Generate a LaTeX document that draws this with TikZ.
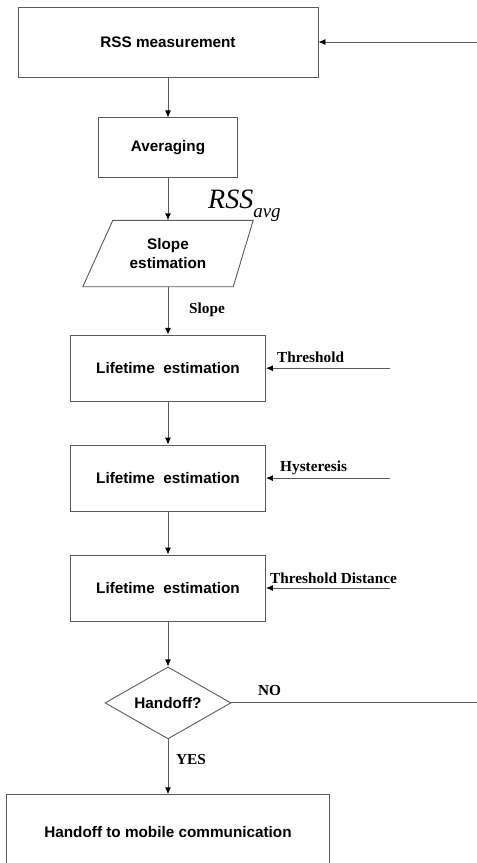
\documentclass[tikz,border=0pt]{standalone}
\usepackage{fontspec}
\setmainfont{Liberation Serif}
\setsansfont{Liberation Sans}
\usetikzlibrary{positioning,arrows.meta,shapes.geometric}

\begin{document}
\begin{tikzpicture}[
        x=1pt, y=-1pt,
        procbox/.style={rectangle, draw=black!65, line width=0.9pt, font=\sffamily\bfseries\fontsize{15.3}{19}\selectfont, align=center, inner sep=0pt},
        slopebox/.style={rectangle, draw=none, minimum width=170pt, minimum height=66pt, font=\sffamily\bfseries\fontsize{15.3}{19}\selectfont, align=center, inner sep=0pt},
        decision/.style={diamond, draw=black!65, line width=0.9pt, aspect=1.75, minimum width=126pt, minimum height=72pt, inner sep=0pt, font=\sffamily\bfseries\fontsize{15.3}{19}\selectfont},
        sidelbl/.style={font=\bfseries\fontsize{15.3}{18}\selectfont, inner sep=0pt, anchor=base west},
        arrow/.style={draw=black!65, line width=0.9pt, -{Latex[length=7pt,width=6pt,color=black]}},
        line/.style={draw=black!65, line width=0.9pt}
    ]
        \useasboundingbox (0,0) rectangle (477,863);

        % Main chain
        \node[procbox, minimum width=300pt, minimum height=70pt] (rss) at (168,42) {RSS measurement};
        \node[procbox, minimum width=139pt, minimum height=60pt, below=40pt of rss] (avg) {Averaging};
        \node[slopebox, below=42pt of avg] (slope) {Slope\\estimation};
        \draw[line] ([xshift=30pt]slope.north west) -- (slope.north east) -- ([xshift=-20pt]slope.south east) -- (slope.south west) -- cycle;
        \node[procbox, minimum width=195pt, minimum height=66pt, below=48pt of slope] (life1) {Lifetime\ \ estimation};
        \node[procbox, minimum width=195pt, minimum height=66pt, below=43pt of life1] (life2) {Lifetime\ \ estimation};
        \node[procbox, minimum width=195pt, minimum height=66pt, below=43pt of life2] (life3) {Lifetime\ \ estimation};
        \node[decision, below=45pt of life3] (handoff) {Handoff?};
        \node[procbox, minimum width=323pt, minimum height=74pt, below=55pt of handoff] (final) {Handoff to mobile communication};

        % Free ends on the right
        \coordinate (back) at (477,42);
        \coordinate (nout) at (handoff.east -| back);
        \coordinate[right=124pt of life1.east] (thrin);
        \coordinate[right=124pt of life2.east] (hysin);
        \coordinate[right=124pt of life3.east] (distin);

        % Labels
        \node[inner sep=0pt, anchor=base west] (rssavg) at (208,208) {\fontsize{28}{30}\selectfont\itshape RSS\raisebox{-9pt}{\fontsize{19}{20}\selectfont avg}};
        \node[sidelbl] (slopelbl) at (189,313) {Slope};
        \node[sidelbl] (thrlbl) at (277,362) {Threshold};
        \node[sidelbl] (hyslbl) at (280,471) {Hysteresis};
        \node[sidelbl] (distlbl) at (270,583) {Threshold Distance};
        \node[sidelbl] (nolbl) at (258,695) {NO};
        \node[sidelbl] (yeslbl) at (176,764) {YES};

        % Arrows
        \draw[arrow] (rss) -- (avg);
        \draw[arrow] (avg) -- (slope);
        \draw[arrow] (slope) -- (life1);
        \draw[arrow] (life1) -- (life2);
        \draw[arrow] (life2) -- (life3);
        \draw[arrow] (life3) -- (handoff);
        \draw[arrow] (handoff) -- (final);
        \draw[arrow] (back) -- (rss.east);
        \draw[arrow] (thrin) -- (life1.east);
        \draw[arrow] (hysin) -- (life2.east);
        \draw[arrow] (distin) -- (life3.east);
        \draw[line] (handoff.east) -- (nout);
    \end{tikzpicture}
\end{document}
